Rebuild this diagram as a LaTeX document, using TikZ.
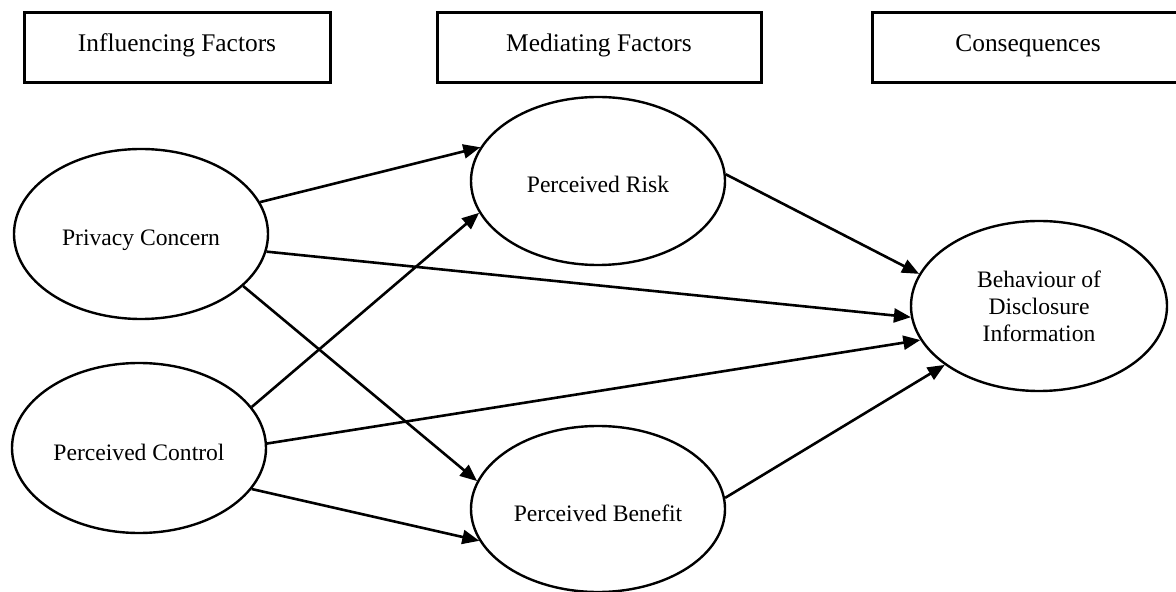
\documentclass[tikz,border=0pt]{standalone}
\usepackage{fontspec}
\setmainfont{Liberation Serif}
\usetikzlibrary{shapes.geometric,arrows.meta}
\begin{document}
\begin{tikzpicture}[x=0.5pt,y=-0.5pt,
  header/.style={draw,line width=1.5pt,rectangle,minimum height=35pt,inner sep=0pt,
    font=\fontsize{12.7}{15}\selectfont,text height=8.7pt,text depth=5.3pt},
  factor/.style={draw,line width=1.2pt,ellipse,minimum width=127pt,minimum height=85pt,
    inner sep=0pt,font=\fontsize{11.8}{13.5}\selectfont,align=center,
    text height=12pt,text depth=0pt},
  link/.style={line width=1.3pt,-{Triangle[length=8.5pt,width=7pt]}}]
\useasboundingbox (0,0) rectangle (1176,592);
\clip (0,0) rectangle (1176,592);
% header boxes
\node[header,minimum width=153pt] (h1) at (177,48) {Influencing Factors};
\node[header,minimum width=162pt] (h2) at (599,48) {Mediating Factors};
\node[header,minimum width=156pt] (h3) at (1028,48) {Consequences};
% ellipses
\node[factor] (pc) at (141,234) {Privacy Concern};
\node[factor] (ct) at (139,448) {Perceived Control};
\node[factor,minimum height=84pt] (pr) at (598,181) {Perceived Risk};
\node[factor,minimum height=83pt] (pb) at (598,509) {Perceived Benefit};
\node[factor,minimum width=128pt,text height=,text depth=] (bh) at (1039,306) {Behaviour of\\Disclosure\\Information};
% connectors
\draw[link] (pc.15.1) -- (pr.164);
\draw[link] (ct.20.7) -- (pr.195.8);
\draw[link] (pc.-8.1) -- (bh.185.3);
\draw[link] (pc.-27.9) -- (pb.167.3);
\draw[link] (ct.2.8) -- (bh.196.7);
\draw[link] (ct.-20) -- (pb.195.6);
\draw[link] (pr.3.5) -- (bh.165.7);
\draw[link] (pb.5.5) -- (bh.212);
\end{tikzpicture}
\end{document}
